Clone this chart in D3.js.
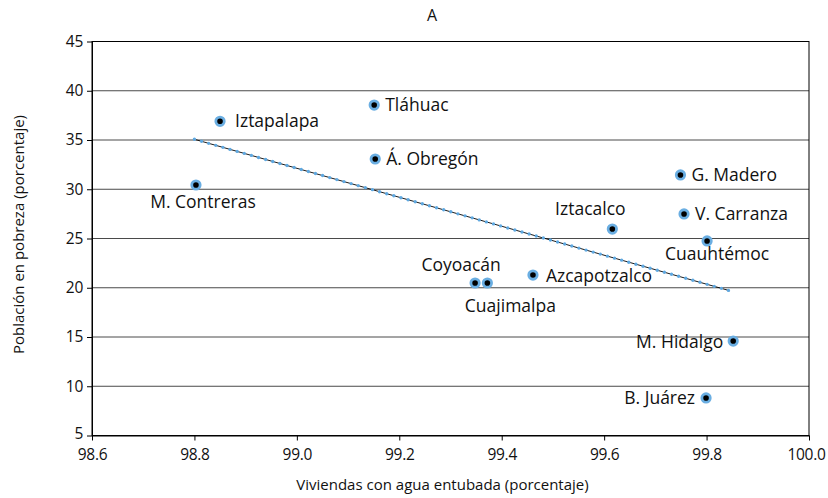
<!DOCTYPE html>
<html>
<head>
<meta charset="utf-8">
<script src="https://cdn.jsdelivr.net/npm/d3@7"></script>
<style>
  body { margin: 0; background: #fff; }
  svg text { font-family: "Open Sans", sans-serif; fill: #111; }
</style>
</head>
<body>
<svg id="chart" width="828" height="498"></svg>
<script>
// Data
const boroughs = ['Iztapalapa', 'Tláhuac', 'Á. Obregón', 'M. Contreras', 'G. Madero', 'V. Carranza',
  'Iztacalco', 'Cuauhtémoc', 'Azcapotzalco', 'Coyoacán', 'Cuajimalpa', 'M. Hidalgo', 'B. Juárez'];
const water = [98.85, 99.151, 99.153, 98.803, 99.749, 99.756, 99.616, 99.801, 99.461, 99.348, 99.372, 99.852, 99.799];
const poverty = [36.9, 38.55, 33.07, 30.43, 31.45, 27.49, 25.96, 24.75, 21.29, 20.48, 20.48, 14.59, 8.81];
const trendX = [98.8, 99.845];
const trendY = [35.07, 19.7];
const xTicks = [98.6, 98.8, 99.0, 99.2, 99.4, 99.6, 99.8, 100.0];
const yTicks = [5, 10, 15, 20, 25, 30, 35, 40, 45];

// label placement: [anchor, dx, dy]
const labelPos = [
  ['start', 15, 0], ['start', 11, 0], ['start', 11, 0], ['middle', 7, 17],
  ['start', 11, 0], ['start', 11, 0], ['middle', -22, -20], ['middle', 10, 13],
  ['start', 13, 1], ['middle', -14, -18], ['middle', 23, 23], ['end', -10, 1], ['end', -11, 0]
];

const svg = d3.select('#chart');
const margin = { top: 41.5, right: 19, bottom: 62.5, left: 92 };
const width = 828 - margin.left - margin.right;
const height = 498 - margin.top - margin.bottom;

const x = d3.scaleLinear().domain([98.6, 100.0]).range([0, width]);
const y = d3.scaleLinear().domain([5, 45]).range([height, 0]);

const g = svg.append('g').attr('transform', `translate(${margin.left},${margin.top})`);

// Gridlines
g.append('g')
  .selectAll('line')
  .data(yTicks.filter(d => d > 5 && d < 45))
  .enter().append('line')
  .attr('x1', 0).attr('x2', width)
  .attr('y1', d => y(d)).attr('y2', d => y(d))
  .attr('stroke', '#4a4a4a')
  .attr('stroke-width', 1);

// Frame
g.append('rect')
  .attr('width', width).attr('height', height)
  .attr('fill', 'none').attr('stroke', '#000').attr('stroke-width', 1);

// Axes
const xAxis = g.append('g')
  .attr('transform', `translate(0,${height})`)
  .call(d3.axisBottom(x).tickValues(xTicks).tickFormat(d3.format('.1f')).tickSize(5).tickSizeOuter(0));
const yAxis = g.append('g')
  .call(d3.axisLeft(y).tickValues(yTicks).tickSize(5).tickSizeOuter(0));

[xAxis, yAxis].forEach(ax => {
  ax.select('.domain').attr('stroke', '#000');
  ax.selectAll('text').style('font-size', '15.5px').attr('fill', '#111')
    .style('font-family', '"Open Sans", sans-serif').style('letter-spacing', '-0.3px');
});
xAxis.selectAll('text').attr('y', 13).attr('dy', '0.75em');
xAxis.selectAll('.tick').filter(d => d === 100).select('text').attr('x', -3);
yAxis.selectAll('text').attr('x', -9);
yAxis.selectAll('.tick').filter(d => d === 5).select('text').attr('dy', '0.2em');

// Trend line: thin black line with blue dots on it
const line = d3.line().x(d => x(d[0])).y(d => y(d[1]));
const trend = d3.zip(trendX, trendY);
g.append('path').datum(trend).attr('d', line)
  .attr('stroke', '#000').attr('stroke-width', 0.9).attr('fill', 'none');
g.append('path').datum(trend).attr('d', line)
  .attr('stroke', '#5fa8e0').attr('stroke-width', 3.4)
  .attr('stroke-linecap', 'round').attr('stroke-dasharray', '0 7.4').attr('fill', 'none');

// Points
const pts = g.append('g').selectAll('g')
  .data(boroughs.map((name, i) => ({ name, x: water[i], y: poverty[i], pos: labelPos[i] })))
  .enter().append('g')
  .attr('transform', d => `translate(${x(d.x)},${y(d.y)})`);

pts.append('circle')
  .attr('r', 4.2)
  .attr('fill', '#000')
  .attr('stroke', '#6aaee2')
  .attr('stroke-width', 2.8);

pts.append('text')
  .attr('x', d => d.pos[1])
  .attr('y', d => d.pos[2])
  .attr('dy', '0.35em')
  .attr('text-anchor', d => d.pos[0])
  .style('font-size', '17.5px')
  .text(d => d.name);

// Title and axis labels
svg.append('text')
  .attr('x', 432).attr('y', 21)
  .attr('text-anchor', 'middle')
  .style('font-size', '16px')
  .text('A');

svg.append('text')
  .attr('x', margin.left + width / 2 - 8).attr('y', 490)
  .attr('text-anchor', 'middle')
  .style('font-size', '15px')
  .text('Viviendas con agua entubada (porcentaje)');

svg.append('text')
  .attr('transform', `translate(24,${margin.top + height / 2 - 4}) rotate(-90)`)
  .attr('text-anchor', 'middle')
  .style('font-size', '15px')
  .text('Población en pobreza  (porcentaje)');
</script>
</body>
</html>
